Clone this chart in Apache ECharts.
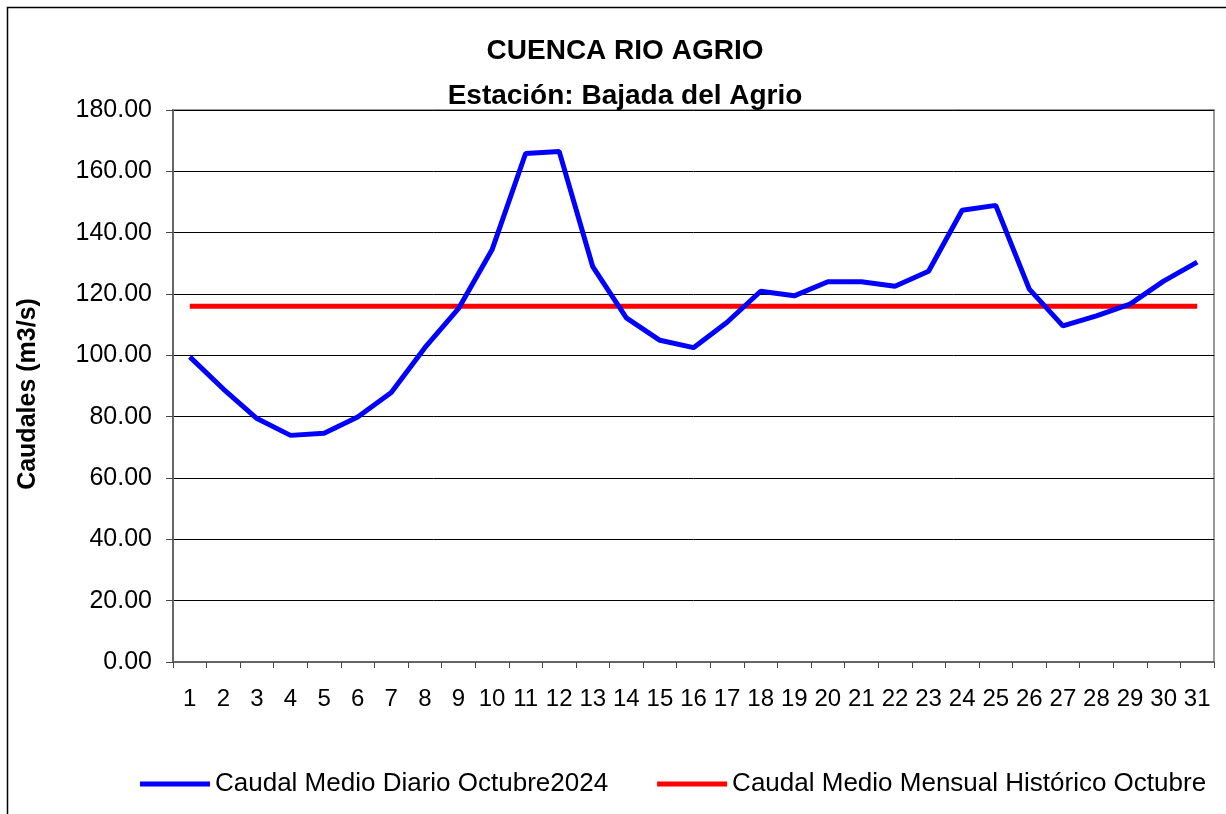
<!DOCTYPE html>
<html>
<head>
<meta charset="utf-8">
<script src="https://cdn.jsdelivr.net/npm/echarts@6/dist/echarts.min.js"></script>
<style>
  html, body { margin: 0; padding: 0; background: #fff; }
  #chart { width: 1226px; height: 814px; }
</style>
</head>
<body>
<div id="chart"></div>
<script>
// dias del mes
var dias = ['1','2','3','4','5','6','7','8','9','10','11','12','13','14','15','16',
            '17','18','19','20','21','22','23','24','25','26','27','28','29','30','31'];
// caudal medio diario octubre 2024 (m3/s)
var caudalDiario = [99.5, 89.0, 79.4, 73.9, 74.6, 79.9, 87.9, 102.5, 115.2, 134.4,
                    165.8, 166.5, 128.9, 112.2, 104.9, 102.5, 110.8, 120.9, 119.4, 124.0,
                    124.0, 122.5, 127.4, 147.3, 148.9, 121.6, 109.6, 112.9, 116.7, 124.2, 130.4];
// caudal medio mensual historico octubre
var caudalHistorico = [116.0, 116.0, 116.0, 116.0, 116.0, 116.0, 116.0, 116.0, 116.0, 116.0,
                       116.0, 116.0, 116.0, 116.0, 116.0, 116.0, 116.0, 116.0, 116.0, 116.0,
                       116.0, 116.0, 116.0, 116.0, 116.0, 116.0, 116.0, 116.0, 116.0, 116.0, 116.0];
var nombres = ['Caudal Medio Diario Octubre2024', 'Caudal Medio Mensual Histórico Octubre'];

var fuente = 'Arial, "Liberation Sans", sans-serif';
var myChart = echarts.init(document.getElementById('chart'));

var option = {
    backgroundColor: '#fff',
    animation: false,
    title: {
        text: 'CUENCA RIO AGRIO\nEstación: Bajada del Agrio',
        left: 620,
        textAlign: 'center',
        top: 24,
        textStyle: {
            fontFamily: fuente,
            fontSize: 28,
            fontWeight: 'bold',
            color: '#000',
            lineHeight: 45
        }
    },
    graphic: [
        {
            type: 'rect',
            shape: { x: 7.5, y: 7.5, width: 1260, height: 860 },
            style: { fill: 'none', stroke: '#000', lineWidth: 1.5 },
            silent: true
        }
    ],
    legend: {
        left: 135,
        top: 766,
        icon: 'rect',
        itemWidth: 70,
        itemHeight: 5,
        itemGap: 49,
        textStyle: { fontFamily: fuente, fontSize: 26, color: '#000', padding: [2, 0, 0, 0] },
        data: nombres
    },
    grid: {
        left: 173,
        right: 12,
        top: 110,
        bottom: 152,
        show: true,
        borderColor: '#999',
        borderWidth: 2
    },
    xAxis: {
        type: 'category',
        data: dias,
        boundaryGap: true,
        axisLine: { lineStyle: { color: '#666', width: 2 } },
        axisTick: { show: true, length: 6, interval: 0, lineStyle: { color: '#444', width: 1 } },
        axisLabel: { interval: 0, margin: 25, fontFamily: fuente, fontSize: 24, color: '#000' },
        splitLine: { show: false }
    },
    yAxis: {
        type: 'value',
        min: 0,
        max: 180,
        interval: 20,
        name: 'Caudales (m3/s)',
        nameLocation: 'middle',
        nameGap: 132,
        nameTextStyle: {
            fontFamily: fuente,
            fontSize: 25,
            fontWeight: 'bold',
            color: '#000',
            padding: [0, 16, 0, 0]
        },
        axisLine: { show: true, lineStyle: { color: '#666', width: 2 } },
        axisTick: { show: true, length: 7, lineStyle: { color: '#444', width: 1 } },
        axisLabel: {
            margin: 21,
            fontFamily: fuente,
            fontSize: 25,
            color: '#000',
            formatter: function (v) { return v.toFixed(2); }
        },
        splitLine: { show: true, lineStyle: { color: '#000', width: 1 } }
    },
    series: [
        {
            name: nombres[0],
            type: 'line',
            data: caudalDiario,
            symbol: 'none',
            lineStyle: { color: '#0000ff', width: 5 },
            itemStyle: { color: '#0000ff' },
            z: 3
        },
        {
            name: nombres[1],
            type: 'line',
            data: caudalHistorico,
            symbol: 'none',
            lineStyle: { color: '#ff0000', width: 5 },
            itemStyle: { color: '#ff0000' },
            z: 2
        }
    ]
};

myChart.setOption(option);
window.addEventListener('resize', () => {
    myChart.resize();
});
</script>
</body>
</html>
